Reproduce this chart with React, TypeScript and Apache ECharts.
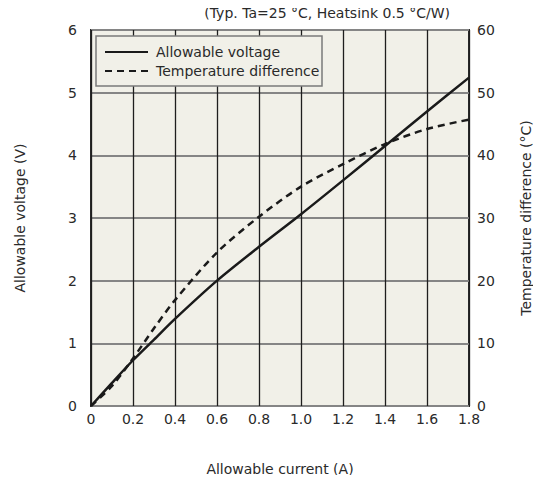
import React, { useEffect, useRef } from "react";
import * as echarts from "echarts";

const currentA = [0, 0.1, 0.2, 0.3, 0.4, 0.6, 0.8, 1.0, 1.2, 1.4, 1.6, 1.8];
const voltageV = [0, 0.37, 0.73, 1.06, 1.39, 2.0, 2.54, 3.06, 3.6, 4.15, 4.7, 5.24];
const tempDiffC = [0, 3.2, 7.6, 12.4, 16.9, 24.5, 30.2, 35.0, 38.6, 41.8, 44.2, 45.7];
const xTicks = [0, 0.2, 0.4, 0.6, 0.8, 1.0, 1.2, 1.4, 1.6, 1.8];
const noteText = "(Typ. Ta=25 °C, Heatsink 0.5 °C/W)";
const seriesNames = ["Allowable voltage", "Temperature difference"];

const FONT = "DejaVu Sans";
const TXT = "#2a2a2a";
const FS = 14;

export default function App() {
  const ref = useRef<HTMLDivElement>(null);
  useEffect(() => {
    if (!ref.current) return;
    const chart = echarts.init(ref.current, undefined, { renderer: "svg" });
    const labelStyle = { color: TXT, fontFamily: FONT, fontSize: FS };
    const legendText = (t: string, y: number) => ({
      type: "text",
      x: 156,
      y,
      style: { text: t, fill: TXT, font: `${FS}px "${FONT}"`, verticalAlign: "middle" },
    });
    chart.setOption({
      animation: false,
      backgroundColor: "#ffffff",
      textStyle: { fontFamily: FONT },
      grid: {
        left: 91,
        right: 71,
        top: 30,
        bottom: 77,
        show: true,
        backgroundColor: "#f1f0e8",
        borderColor: "#2a2a2a",
        borderWidth: 2,
      },
      graphic: [
        {
          type: "text",
          right: 91,
          top: 6,
          style: { text: noteText, fill: TXT, font: `${FS}px "${FONT}"` },
        },
        {
          type: "rect",
          z: 50,
          shape: { x: 96, y: 36, width: 226, height: 50 },
          style: { fill: "#f1f0e8", stroke: "#7a7a7a", lineWidth: 1.5 },
        },
        {
          type: "line",
          z: 51,
          shape: { x1: 105, y1: 52, x2: 148, y2: 52 },
          style: { stroke: "#1a1a1a", lineWidth: 2 },
        },
        {
          type: "line",
          z: 51,
          shape: { x1: 105, y1: 71, x2: 148, y2: 71 },
          style: { stroke: "#1a1a1a", lineWidth: 2, lineDash: [7, 5] },
        },
        { ...legendText(seriesNames[0], 52), z: 51 },
        { ...legendText(seriesNames[1], 71), z: 51 },
      ],
      xAxis: {
        type: "value",
        min: 0,
        max: 1.8,
        interval: 0.2,
        name: "Allowable current (A)",
        nameLocation: "middle",
        nameGap: 56,
        nameTextStyle: labelStyle,
        axisLine: { show: false },
        axisTick: { show: false },
        axisLabel: {
          ...labelStyle,
          margin: 6,
          formatter: (v: number) => {
            const t = xTicks.find((x) => Math.abs(x - v) < 1e-6);
            if (t === undefined) return "";
            return t === 0 ? "0" : t.toFixed(1);
          },
        },
        splitLine: { show: true, lineStyle: { color: "#1e1e1e", width: 1.3 } },
      },
      yAxis: [
        {
          type: "value",
          min: 0,
          max: 6,
          interval: 1,
          name: "Allowable voltage (V)",
          nameLocation: "middle",
          nameGap: 64,
          nameTextStyle: labelStyle,
          axisLine: { show: false },
          axisTick: { show: false },
          axisLabel: { ...labelStyle, margin: 14 },
          splitLine: { show: true, lineStyle: { color: "#858585", width: 2 } },
        },
        {
          type: "value",
          min: 0,
          max: 60,
          interval: 10,
          name: "Temperature difference (°C)",
          nameLocation: "middle",
          nameGap: 50,
          nameRotate: 90,
          nameTextStyle: labelStyle,
          axisLine: { show: false },
          axisTick: { show: false },
          axisLabel: { ...labelStyle, margin: 8 },
          splitLine: { show: false },
        },
      ],
      series: [
        {
          name: seriesNames[0],
          type: "line",
          yAxisIndex: 0,
          data: currentA.map((x, i) => [x, voltageV[i]]),
          smooth: 0.3,
          showSymbol: false,
          symbol: "none",
          lineStyle: { color: "#1a1a1a", width: 2.5, type: "solid" },
        },
        {
          name: seriesNames[1],
          type: "line",
          yAxisIndex: 1,
          data: currentA.map((x, i) => [x, tempDiffC[i]]),
          smooth: 0.3,
          showSymbol: false,
          symbol: "none",
          lineStyle: { color: "#1a1a1a", width: 2.5, type: [7, 5] },
        },
      ],
    });
    return () => chart.dispose();
  }, []);
  return <div ref={ref} style={{ width: 541, height: 483, margin: -8 }} />;
}
